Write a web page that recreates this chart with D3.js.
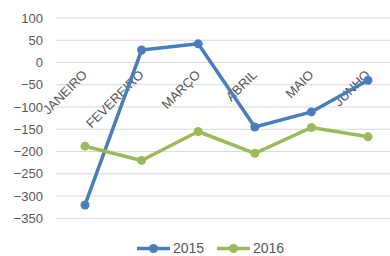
<html>
<head>
  <meta charset="utf-8">
  <script src="https://cdnjs.cloudflare.com/ajax/libs/d3/7.8.5/d3.min.js"></script>
  <style>
    body { margin: 0; background: #fff; }
    text { font-family: "Liberation Sans", Arial, sans-serif; fill: #595959; }
  </style>
</head>
<body>
  <div id="chart"></div>
  <script>
  var months = ["JANEIRO", "FEVEREIRO", "MARÇO", "ABRIL", "MAIO", "JUNHO"];
  var values2015 = [-320, 28, 42, -145, -111, -40];
  var values2016 = [-188, -220, -155, -204, -146, -167];
  var yTicks = [100, 50, 0, -50, -100, -150, -200, -250, -300, -350];
  var seriesNames = ["2015", "2016"];
  var seriesColors = ["#4a7ebb", "#9bbb59"];

  var W = 390, H = 256;
  var svg = d3.select("#chart").append("svg")
    .attr("width", W).attr("height", H);

  var x = d3.scalePoint().domain(months).range([85, 368]);
  var y = d3.scaleLinear().domain([-350, 100]).range([218.3, 18]);

  // gridlines
  svg.append("g").selectAll("line")
    .data(yTicks).enter().append("line")
    .attr("x1", 56).attr("x2", 396)
    .attr("y1", function(d) { return y(d); })
    .attr("y2", function(d) { return y(d); })
    .attr("stroke", "#d9d9d9").attr("stroke-width", 1);

  // y axis labels
  var yAxis = svg.append("g")
    .attr("transform", "translate(43,0)")
    .call(d3.axisLeft(y).tickValues(yTicks).tickSize(0).tickPadding(0));
  yAxis.select(".domain").remove();
  yAxis.selectAll("text")
    .style("font-size", "13px")
    .attr("fill", "#595959");

  // category labels, rotated, sitting under the zero line
  svg.append("g").selectAll("text")
    .data(months).enter().append("text")
    .attr("transform", function(d) {
      return "translate(" + (x(d) + 3) + "," + (y(0) + 13) + ") rotate(-45)";
    })
    .attr("text-anchor", "end")
    .style("font-size", "13px")
    .text(function(d) { return d; });

  var line = d3.line()
    .x(function(d, i) { return x(months[i]); })
    .y(function(d) { return y(d); });

  [values2015, values2016].forEach(function(vals, k) {
    var g = svg.append("g");
    g.append("path")
      .datum(vals)
      .attr("d", line)
      .attr("fill", "none")
      .attr("stroke", seriesColors[k])
      .attr("stroke-width", 3.5)
      .attr("stroke-linejoin", "round");
    g.selectAll("circle")
      .data(vals).enter().append("circle")
      .attr("cx", function(d, i) { return x(months[i]); })
      .attr("cy", function(d) { return y(d); })
      .attr("r", 4.5)
      .attr("fill", seriesColors[k]);
  });

  // legend
  var legX = [137, 217];
  var legend = svg.append("g");
  seriesNames.forEach(function(name, k) {
    var lg = legend.append("g").attr("transform", "translate(" + legX[k] + ",248.5)");
    lg.append("line")
      .attr("x1", 0).attr("x2", 33)
      .attr("stroke", seriesColors[k]).attr("stroke-width", 3.5);
    lg.append("circle").attr("cx", 16.5).attr("r", 4.5).attr("fill", seriesColors[k]);
    lg.append("text")
      .attr("x", 36).attr("dy", "0.35em")
      .style("font-size", "14px")
      .text(name);
  });
  </script>
</body>
</html>
